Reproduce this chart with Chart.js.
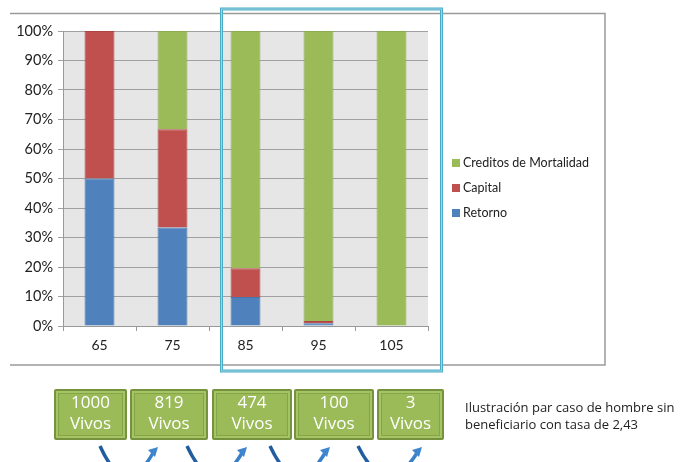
<!DOCTYPE html>
<html>
<head>
<meta charset="utf-8">
<script src="https://cdn.jsdelivr.net/npm/chart.js@4"></script>
<style>
  html, body { margin: 0; padding: 0; background: #fff; }
  #wrap { position: relative; width: 689px; height: 462px; overflow: hidden; }
  #chart { position: absolute; left: 0; top: 0; }
  .vivo {
    position: absolute; top: 389px; height: 51px; box-sizing: border-box;
    background: #9bbb59; border: 2px solid #76923c; border-radius: 2px;
    box-shadow: inset 0 0 0 2px #a5c466, inset 0 0 0 3px #84a446;
    color: #fff; font: 17px "Open Sans", sans-serif; line-height: 21px;
    text-align: center; padding-top: 0px;
  }
  #nota {
    position: absolute; left: 465px; top: 399px;
    font: 13px "Open Sans", sans-serif; line-height: 17px; color: #222;
  }
</style>
</head>
<body>
<div id="wrap">
  <canvas id="chart" width="689" height="462"></canvas>
  <div id="nota">Ilustración par caso de hombre sin<br>beneficiario con tasa de 2,43</div>
</div>
<script>
// Edades y composición (%) de cada barra
const edades = ['65', '75', '85', '95', '105'];
const retorno = [50, 33.4, 9.8, 0.9, 0];
const capital = [50, 33.3, 9.8, 0.8, 0];
const creditos = [0, 33.3, 80.4, 98.3, 100];
const yTicks = [0, 10, 20, 30, 40, 50, 60, 70, 80, 90, 100];

// Personas vivas en cada edad (cajas de abajo)
const vivos = ['1000', '819', '474', '100', '3'];
const cajasX = [54, 130, 212, 294, 377];
const cajasW = [73, 78, 80, 80, 67];

const colores = { retorno: '#4f81bd', capital: '#c0504d', creditos: '#9bbb59' };

// Cajas verdes con vivos
const wrap = document.getElementById('wrap');
vivos.forEach((v, i) => {
  const d = document.createElement('div');
  d.className = 'vivo';
  d.style.left = cajasX[i] + 'px';
  d.style.width = cajasW[i] + 'px';
  d.innerHTML = v + '<br>Vivos';
  wrap.appendChild(d);
});

// Fondo gris del área de trazado
const plotBg = {
  id: 'plotBg',
  beforeDraw(chart) {
    const { ctx, chartArea: a } = chart;
    ctx.save();
    ctx.fillStyle = '#e6e6e6';
    ctx.fillRect(a.left, a.top, a.right - a.left, a.bottom - a.top);
    ctx.restore();
  }
};

// Marco, leyenda, recuadro y flechas
const extras = {
  id: 'extras',
  afterDraw(chart) {
    const ctx = chart.ctx;
    ctx.save();

    // marco del gráfico
    ctx.strokeStyle = '#9a9a9a';
    ctx.lineWidth = 1.5;
    ctx.beginPath();
    ctx.moveTo(10, 13.5);
    ctx.lineTo(605, 13.5);
    ctx.lineTo(605, 365);
    ctx.lineTo(10, 365);
    ctx.stroke();

    // leyenda
    const items = chart.data.datasets.slice().reverse();
    ctx.font = '12.5px Lato, sans-serif';
    ctx.textBaseline = 'middle';
    items.forEach((ds, i) => {
      const y = 163 + i * 25;
      ctx.fillStyle = ds.backgroundColor;
      ctx.fillRect(452, y - 4, 8, 8);
      ctx.fillStyle = '#222';
      ctx.fillText(ds.label, 463, y);
    });

    // recuadro azul sobre 85-105
    ctx.strokeStyle = '#4bacc6';
    ctx.lineWidth = 3;
    ctx.strokeRect(221.5, 9, 220, 362);
    ctx.strokeStyle = '#9fd4e3';
    ctx.lineWidth = 1;
    ctx.strokeRect(221.5, 9, 220, 362);

    // flechas curvas entre cajas
    const flechas = [[100, 158], [187, 247], [270, 330], [358, 422]];
    flechas.forEach(([x1, x2]) => {
      const g = ctx.createLinearGradient(x1, 0, x2, 0);
      g.addColorStop(0, '#1f5a9c');
      g.addColorStop(1, '#3f86cf');
      ctx.strokeStyle = g;
      ctx.lineWidth = 3.5;
      ctx.beginPath();
      ctx.moveTo(x1, 446);
      ctx.quadraticCurveTo((x1 + x2) / 2 - 4, 502, x2 - 5, 453);
      ctx.stroke();
      ctx.fillStyle = '#3f86cf';
      ctx.beginPath();
      ctx.moveTo(x2, 447);
      ctx.lineTo(x2 - 10, 450);
      ctx.lineTo(x2 - 3, 457);
      ctx.closePath();
      ctx.fill();
    });
    ctx.restore();
  }
};

new Chart(document.getElementById('chart'), {
  type: 'bar',
  data: {
    labels: edades,
    datasets: [
      { label: 'Retorno', data: retorno, backgroundColor: colores.retorno, borderColor: '#4675ad', borderWidth: 1 },
      { label: 'Capital', data: capital, backgroundColor: colores.capital, borderColor: '#ad4643', borderWidth: 1 },
      { label: 'Creditos de Mortalidad', data: creditos, backgroundColor: colores.creditos, borderColor: '#8cab4f', borderWidth: 1 }
    ]
  },
  options: {
    responsive: false,
    devicePixelRatio: 1,
    animation: false,
    layout: { padding: { left: 10, top: 31, right: 261, bottom: 106 } },
    datasets: { bar: { categoryPercentage: 1, barPercentage: 0.41 } },
    plugins: { legend: { display: false }, tooltip: { enabled: false } },
    scales: {
      x: {
        stacked: true,
        afterFit: s => { s.height = 30; },
        grid: { drawOnChartArea: false, drawTicks: true, tickLength: 5, color: '#999' },
        border: { color: '#999' },
        ticks: { color: '#222', padding: 6, font: { family: 'Lato', size: 14 } }
      },
      y: {
        stacked: true,
        min: 0,
        max: 100,
        afterFit: s => { s.width = 53; },
        afterBuildTicks: s => { s.ticks = yTicks.map(v => ({ value: v })); },
        grid: { color: '#a0a0a0', tickLength: 5 },
        border: { color: '#999' },
        ticks: { color: '#222', padding: 5, font: { family: 'Lato', size: 14.5 }, callback: v => v + '%' }
      }
    }
  },
  plugins: [plotBg, extras]
});
</script>
</body>
</html>
